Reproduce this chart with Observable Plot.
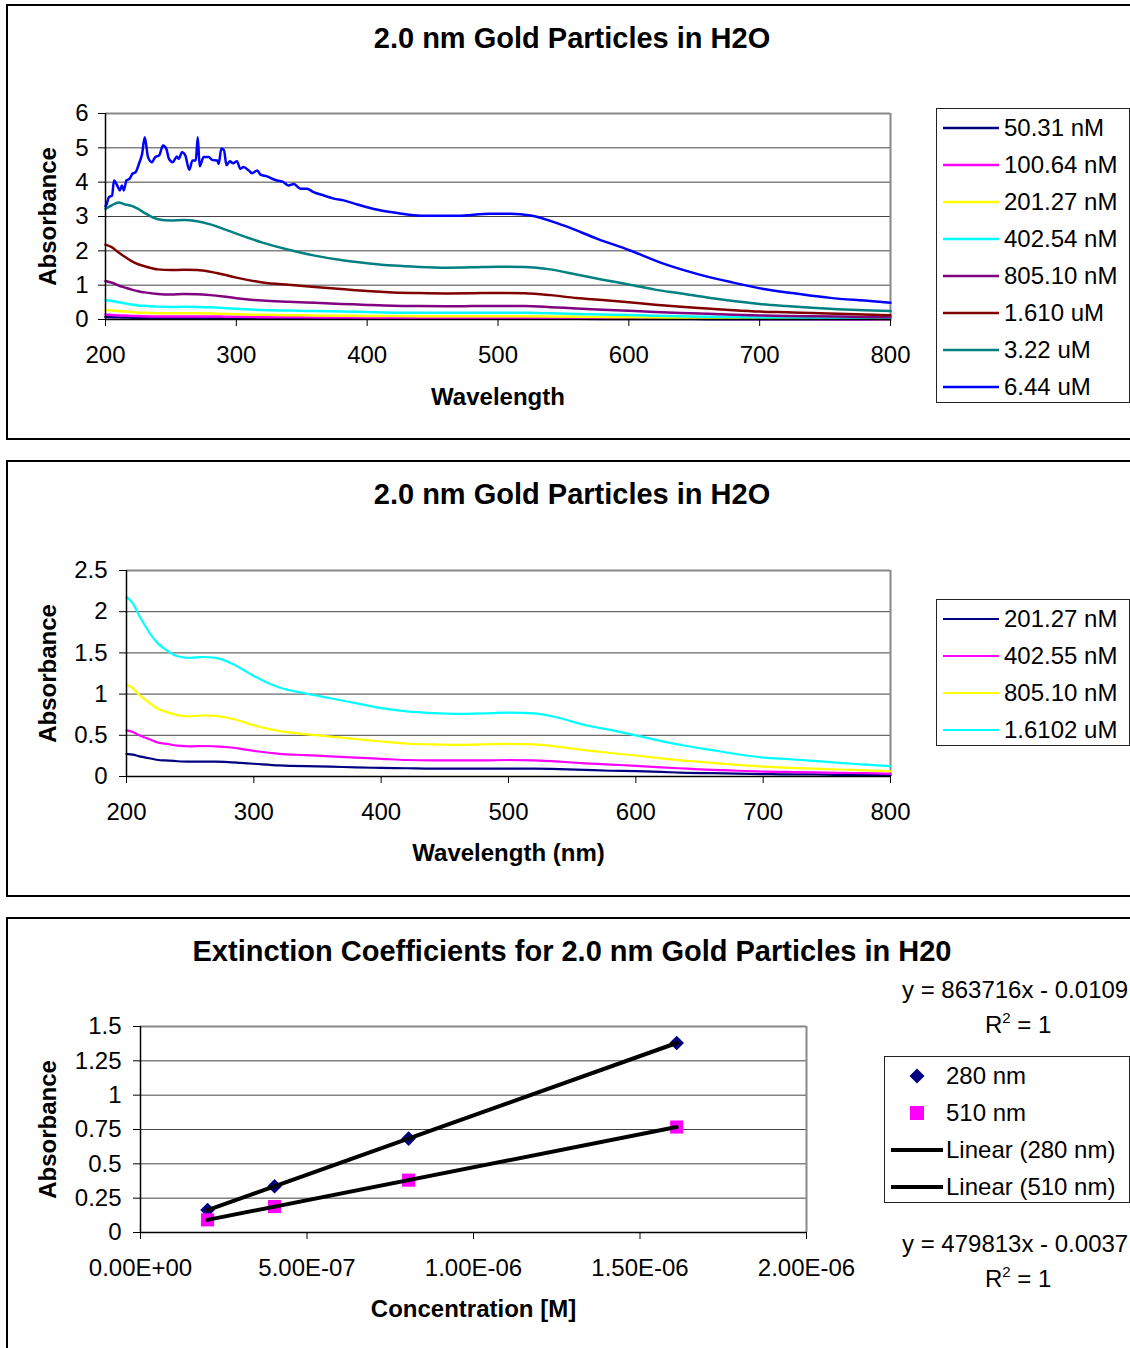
<!DOCTYPE html>
<html>
<head>
<meta charset="utf-8">
<script src="https://cdn.jsdelivr.net/npm/d3@7"></script>
<script src="https://cdn.jsdelivr.net/npm/@observablehq/plot@0.6"></script>
<style>
  html, body { margin: 0; padding: 0; background: #fff; }
  body { width: 1130px; height: 1348px; overflow: hidden; position: relative;
         font-family: "Liberation Sans", Arial, sans-serif; color: #000; }
  .panel { position: absolute; left: 6px; width: 1150px; border: 2px solid #000; box-sizing: border-box; }
  .title { position: absolute; font-weight: bold; font-size: 29px; line-height: 1; white-space: nowrap;
           transform: translate(-50%, -50%); }
  .chart { position: absolute; left: 0; }
  .legend { position: absolute; border: 1.5px solid #222; box-sizing: border-box; background: #fff; }
  .legend svg { position: absolute; left: 0; top: 0; overflow: visible; }
  .lg-text { position: absolute; font-size: 24px; line-height: 28px; white-space: nowrap; }
  .eq { position: absolute; font-size: 24px; line-height: 28px; white-space: nowrap; }
  .eq .sup { font-size: 15px; position: relative; top: -10px; }
</style>
</head>
<body>
<div class="panel" style="top:4px;height:436px"></div>
<div class="panel" style="top:460px;height:437px"></div>
<div class="panel" style="top:917px;height:500px"></div>

<div class="title" style="left:572px;top:38px">2.0 nm Gold Particles in H2O</div>
<div class="title" style="left:572px;top:494px">2.0 nm Gold Particles in H2O</div>
<div class="title" style="left:572px;top:951px">Extinction Coefficients for 2.0 nm Gold Particles in H20</div>

<div id="chart1" class="chart" style="top:90px"></div>
<div id="chart2" class="chart" style="top:540px"></div>
<div id="chart3" class="chart" style="top:996px"></div>

<div class="eq" style="left:902px;top:976px">y = 863716x - 0.0109</div>
<div class="eq" style="left:985px;top:1011px">R<span class="sup">2</span> = 1</div>
<div class="eq" style="left:902px;top:1230px">y = 479813x - 0.0037</div>
<div class="eq" style="left:985px;top:1265px">R<span class="sup">2</span> = 1</div>

<script>
// ---- Absorbance spectra (wavelength in nm) ----
const wavelengths = [200,205,210,215,220,225,230,240,250,260,270,280,290,300,320,340,360,380,400,420,440,460,480,500,520,540,560,580,600,620,640,660,680,700,720,740,760,780,800];

const abs50nM   = [0.07,0.067,0.062,0.058,0.054,0.051,0.049,0.047,0.046,0.046,0.046,0.044,0.042,0.039,0.035,0.032,0.03,0.028,0.027,0.025,0.025,0.024,0.024,0.025,0.024,0.023,0.02,0.018,0.016,0.014,0.012,0.01,0.009,0.008,0.007,0.006,0.005,0.005,0.004];
const abs100nM  = [0.14,0.13,0.12,0.115,0.105,0.10,0.095,0.09,0.09,0.09,0.09,0.088,0.083,0.077,0.068,0.064,0.06,0.056,0.052,0.05,0.048,0.048,0.048,0.049,0.048,0.045,0.04,0.035,0.032,0.027,0.023,0.02,0.017,0.015,0.013,0.012,0.01,0.009,0.008];
const abs201nM  = [0.275,0.265,0.245,0.23,0.215,0.20,0.195,0.185,0.18,0.18,0.18,0.175,0.165,0.155,0.135,0.125,0.12,0.11,0.105,0.10,0.095,0.095,0.095,0.095,0.095,0.09,0.08,0.07,0.065,0.055,0.045,0.04,0.035,0.03,0.025,0.025,0.02,0.02,0.015];
const abs402nM  = [0.56,0.54,0.50,0.47,0.44,0.41,0.40,0.375,0.365,0.37,0.365,0.355,0.335,0.31,0.275,0.26,0.245,0.23,0.215,0.20,0.195,0.195,0.195,0.20,0.195,0.18,0.16,0.145,0.13,0.11,0.095,0.08,0.07,0.06,0.055,0.05,0.045,0.04,0.035];
const abs805nM  = [1.12,1.07,0.99,0.93,0.87,0.82,0.79,0.745,0.73,0.74,0.735,0.71,0.67,0.62,0.55,0.515,0.485,0.455,0.425,0.40,0.39,0.385,0.39,0.395,0.39,0.36,0.32,0.285,0.255,0.22,0.19,0.165,0.14,0.12,0.105,0.095,0.085,0.075,0.065];
const abs1610nM = [2.18,2.10,1.95,1.82,1.70,1.61,1.55,1.46,1.44,1.45,1.44,1.39,1.31,1.22,1.08,1.01,0.95,0.89,0.83,0.79,0.77,0.76,0.765,0.775,0.765,0.71,0.625,0.565,0.50,0.43,0.37,0.32,0.27,0.23,0.21,0.19,0.165,0.145,0.125];
const abs3220nM = [3.22,3.33,3.41,3.35,3.31,3.22,3.10,2.92,2.88,2.90,2.86,2.77,2.64,2.50,2.24,2.03,1.86,1.73,1.64,1.57,1.53,1.51,1.52,1.54,1.53,1.46,1.31,1.16,1.02,0.87,0.76,0.64,0.54,0.45,0.39,0.34,0.30,0.27,0.245];

// the most concentrated sample is noisy in the UV, so it is sampled more finely
const wavelengths6440 = [200,201,202.5,205,206.5,209,211,212.5,214,216,218.5,220.5,223,225.5,228,230,232.5,235.5,238,241,244,246.5,248.5,251.5,254.5,256,258.5,261,264,266.5,269,270.5,272,275,279,281.5,285.5,286.5,288.5,290.5,292.5,295,297.5,300.5,303,305.5,309.5,312,316,318.5,323.5,327.5,331,336,340,344,349,354,359,367,374.5,382,392.5,405,418,430.5,443,469,494,510,525,550,576,601,627,652,678,703,729,754,780,800];
const abs6440nM = [3.30,3.37,3.56,3.61,4.05,3.90,3.76,3.90,3.76,4.05,4.10,4.24,4.29,4.53,4.83,5.31,4.73,4.58,4.73,4.78,5.07,4.97,4.68,4.58,4.75,4.68,4.87,4.78,4.36,4.63,4.63,5.31,4.46,4.73,4.73,4.65,4.63,4.53,4.97,4.94,4.49,4.61,4.55,4.61,4.39,4.44,4.34,4.26,4.34,4.22,4.17,4.10,4.05,4.00,3.90,3.95,3.81,3.81,3.71,3.61,3.52,3.47,3.35,3.22,3.13,3.06,3.02,3.02,3.08,3.08,3.03,2.74,2.35,2.01,1.62,1.33,1.09,0.89,0.75,0.63,0.55,0.49];

const seriesNames1 = ["50.31 nM","100.64 nM","201.27 nM","402.54 nM","805.10 nM","1.610 uM","3.22 uM","6.44 uM"];
const seriesColors1 = ["#000080","#FF00FF","#FFFF00","#00FFFF","#800080","#800000","#008080","#0000FF"];
const seriesNames2 = ["201.27 nM","402.55 nM","805.10 nM","1.6102 uM"];
const seriesColors2 = ["#000080","#FF00FF","#FFFF00","#00FFFF"];

// ---- Extinction data ----
const concentrationM = [2.0127e-7, 4.0254e-7, 8.051e-7, 1.6102e-6];
const abs280 = [0.163, 0.337, 0.684, 1.380];
const abs510 = [0.092, 0.189, 0.381, 0.768];
const extinctionNames = ["280 nm", "510 nm", "Linear (280 nm)", "Linear (510 nm)"];

const ticks1Y = [0,1,2,3,4,5,6];
const ticksWl = [200,300,400,500,600,700,800];
const ticks2Y = [0,0.5,1,1.5,2,2.5];
const ticks3Y = [0,0.25,0.5,0.75,1,1.25,1.5];
const ticks3X = [0,5e-7,1e-6,1.5e-6,2e-6];

// ---- helpers ----
const FONT = '"Liberation Sans", Arial, sans-serif';
const toRows = (xs, ys, series) => xs.map((x, i) => ({wavelength: x, absorbance: ys[i], series}));
const expFormat = d => {
  const [m, e] = d.toExponential(2).split("e");
  return m + "E" + e[0] + e.slice(1).padStart(2, "0");
};
const plainFormat = d => String(d);
const baseStyle = {fontFamily: FONT, fontSize: "24px", background: "transparent", overflow: "visible", color: "#000"};

function frameMarks(xDom, yDom, gridTicks) {
  return [
    Plot.gridY({ticks: gridTicks, stroke: "#444", strokeOpacity: 1, strokeWidth: 1}),
    Plot.ruleY([yDom[1]], {stroke: "#888", strokeWidth: 2}),
    Plot.ruleX([xDom[1]], {stroke: "#888", strokeWidth: 2})
  ];
}
function axisLines(xDom, yDom) {
  return [
    Plot.ruleY([yDom[0]], {stroke: "#000", strokeWidth: 1.5}),
    Plot.ruleX([xDom[0]], {stroke: "#000", strokeWidth: 1.5})
  ];
}
// rotated y-axis title, centred on the frame
const yTitle = (label, dx) =>
  Plot.text([label], {text: d => d, frameAnchor: "left", textAnchor: "middle", dx, rotate: -90, fontWeight: "bold"});
const xTitle = (label, dy) =>
  Plot.text([label], {text: d => d, frameAnchor: "bottom", textAnchor: "middle", dy, fontWeight: "bold"});

function legend(box, items, opts) {
  const div = d3.select("body").append("div").attr("class", "legend")
    .style("left", box.left + "px").style("top", box.top + "px")
    .style("width", box.width + "px").style("height", box.height + "px");
  const svg = div.append("svg").attr("width", box.width).attr("height", box.height);
  items.forEach((it, i) => {
    const cy = 19 + i * 37;
    if (it.kind === "line") {
      svg.append("line").attr("x1", opts.lineX0).attr("x2", opts.lineX1)
        .attr("y1", cy).attr("y2", cy).attr("stroke", it.color).attr("stroke-width", it.width);
    } else if (it.kind === "diamond") {
      const s = 7.5, cx = opts.markX;
      svg.append("path").attr("d", `M${cx},${cy - s}L${cx + s},${cy}L${cx},${cy + s}L${cx - s},${cy}Z`).attr("fill", it.color);
    } else if (it.kind === "square") {
      const s = 7, cx = opts.markX;
      svg.append("rect").attr("x", cx - s).attr("y", cy - s).attr("width", 2 * s).attr("height", 2 * s).attr("fill", it.color);
    }
    div.append("div").attr("class", "lg-text")
      .style("left", opts.textX + "px").style("top", (cy - 14) + "px").text(it.label);
  });
}

// ---- Chart 1: all eight concentrations ----
const data1 = [
  ...toRows(wavelengths, abs50nM, seriesNames1[0]),
  ...toRows(wavelengths, abs100nM, seriesNames1[1]),
  ...toRows(wavelengths, abs201nM, seriesNames1[2]),
  ...toRows(wavelengths, abs402nM, seriesNames1[3]),
  ...toRows(wavelengths, abs805nM, seriesNames1[4]),
  ...toRows(wavelengths, abs1610nM, seriesNames1[5]),
  ...toRows(wavelengths, abs3220nM, seriesNames1[6]),
  ...toRows(wavelengths6440, abs6440nM, seriesNames1[7])
];
const chart1 = Plot.plot({
  width: 910, height: 330, marginLeft: 105, marginRight: 20, marginTop: 23, marginBottom: 101,
  style: baseStyle,
  x: {domain: [200, 800]},
  y: {domain: [0, 6]},
  color: {domain: seriesNames1, range: seriesColors1},
  marks: [
    ...frameMarks([200, 800], [0, 6], [1, 2, 3, 4, 5]),
    Plot.line(data1, {x: "wavelength", y: "absorbance", z: "series", stroke: "series", strokeWidth: 2.5, curve: "monotone-x"}),
    ...axisLines([200, 800], [0, 6]),
    Plot.axisY({ticks: ticks1Y, tickSize: 7, tickPadding: 10, tickFormat: plainFormat, label: null}),
    Plot.axisX({ticks: ticksWl, tickSize: 7, tickPadding: 19, tickFormat: plainFormat, label: null}),
    yTitle("Absorbance", -57),
    xTitle("Wavelength", 85)
  ]
});
document.getElementById("chart1").append(chart1);
legend({left: 936, top: 108, width: 194, height: 295},
  seriesNames1.map((s, i) => ({label: s, color: seriesColors1[i], kind: "line", width: 2.5})),
  {lineX0: 6, lineX1: 62, textX: 67});

// ---- Chart 2: four concentrations ----
const data2 = [
  ...toRows(wavelengths, abs201nM, seriesNames2[0]),
  ...toRows(wavelengths, abs402nM, seriesNames2[1]),
  ...toRows(wavelengths, abs805nM, seriesNames2[2]),
  ...toRows(wavelengths, abs1610nM, seriesNames2[3])
];
const chart2 = Plot.plot({
  width: 910, height: 340, marginLeft: 126, marginRight: 20, marginTop: 30, marginBottom: 104,
  style: baseStyle,
  x: {domain: [200, 800]},
  y: {domain: [0, 2.5]},
  color: {domain: seriesNames2, range: seriesColors2},
  marks: [
    ...frameMarks([200, 800], [0, 2.5], [0.5, 1, 1.5, 2]),
    Plot.line(data2, {x: "wavelength", y: "absorbance", z: "series", stroke: "series", strokeWidth: 2.2, curve: "monotone-x"}),
    ...axisLines([200, 800], [0, 2.5]),
    Plot.axisY({ticks: ticks2Y, tickSize: 7, tickPadding: 12, tickFormat: plainFormat, label: null}),
    Plot.axisX({ticks: ticksWl, tickSize: 7, tickPadding: 19, tickFormat: plainFormat, label: null}),
    yTitle("Absorbance", -78),
    xTitle("Wavelength (nm)", 84)
  ]
});
document.getElementById("chart2").append(chart2);
legend({left: 936, top: 599, width: 194, height: 147},
  seriesNames2.map((s, i) => ({label: s, color: seriesColors2[i], kind: "line", width: 2.2})),
  {lineX0: 6, lineX1: 62, textX: 67});

// ---- Chart 3: extinction coefficients ----
const pts280 = concentrationM.map((c, i) => ({conc: c, absorbance: abs280[i]}));
const pts510 = concentrationM.map((c, i) => ({conc: c, absorbance: abs510[i]}));
const chart3 = Plot.plot({
  width: 880, height: 340, marginLeft: 140, marginRight: 74, marginTop: 30, marginBottom: 104,
  style: baseStyle,
  x: {domain: [0, 2e-6]},
  y: {domain: [0, 1.5]},
  marks: [
    ...frameMarks([0, 2e-6], [0, 1.5], [0.25, 0.5, 0.75, 1, 1.25]),
    Plot.dot(pts280, {x: "conc", y: "absorbance", symbol: "diamond2", r: 6.6, fill: "#000080", stroke: "none"}),
    Plot.dot(pts510, {x: "conc", y: "absorbance", symbol: "square", r: 7.4, fill: "#FF00FF", stroke: "none"}),
    Plot.linearRegressionY(pts280, {x: "conc", y: "absorbance", stroke: "#000", strokeWidth: 4, ci: 0}),
    Plot.linearRegressionY(pts510, {x: "conc", y: "absorbance", stroke: "#000", strokeWidth: 4, ci: 0}),
    ...axisLines([0, 2e-6], [0, 1.5]),
    Plot.axisY({ticks: ticks3Y, tickSize: 7, tickPadding: 12, tickFormat: plainFormat, label: null}),
    Plot.axisX({ticks: ticks3X, tickSize: 7, tickPadding: 19, tickFormat: expFormat, label: null}),
    yTitle("Absorbance", -92),
    xTitle("Concentration [M]", 84)
  ]
});
document.getElementById("chart3").append(chart3);
legend({left: 884, top: 1056, width: 246, height: 147},
  [
    {label: extinctionNames[0], color: "#000080", kind: "diamond"},
    {label: extinctionNames[1], color: "#FF00FF", kind: "square"},
    {label: extinctionNames[2], color: "#000", kind: "line", width: 4},
    {label: extinctionNames[3], color: "#000", kind: "line", width: 4}
  ],
  {lineX0: 6, lineX1: 58, markX: 32, textX: 61});
</script>
</body>
</html>
